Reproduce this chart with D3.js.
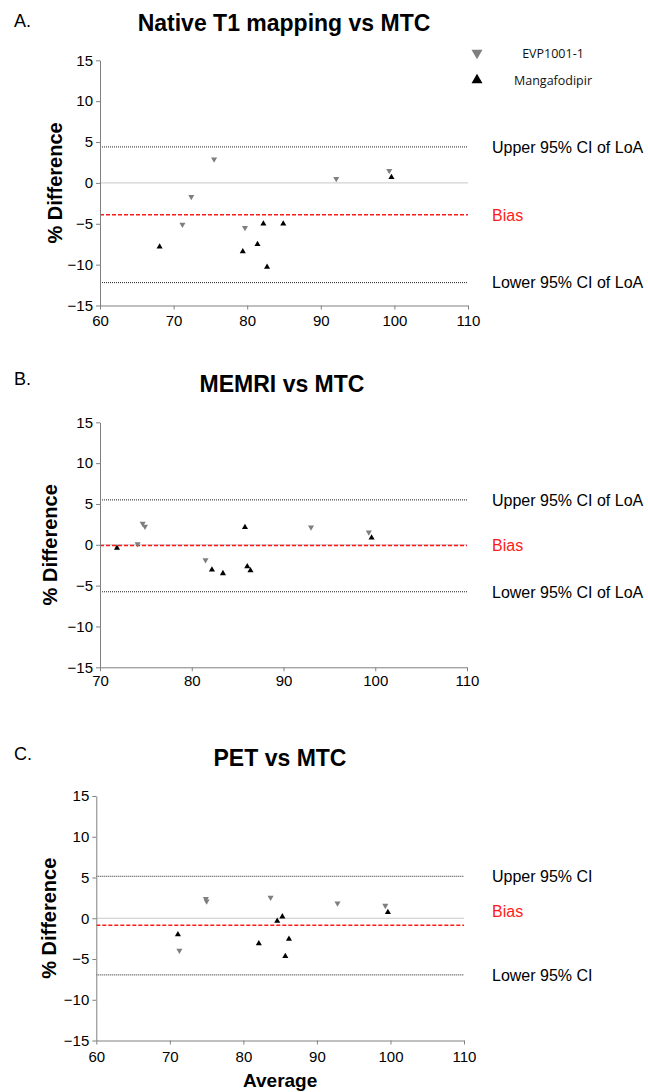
<!DOCTYPE html>
<html>
<head>
<meta charset="utf-8">
<script src="https://cdn.jsdelivr.net/npm/d3@7"></script>
<style>
  body { margin: 0; background: #fff; }
  svg { display: block; }
</style>
</head>
<body>
<script>
// Values (x = average, y = % difference)
var yTicks = [-15, -10, -5, 0, 5, 10, 15];
var xTicksA = [60, 70, 80, 90, 100, 110];
var xTicksB = [70, 80, 90, 100, 110];
var xTicksC = [60, 70, 80, 90, 100, 110];

var legendNames = ["EVP1001-1", "Mangafodipir"];

// A. Native T1 mapping vs MTC
var evpAx = [75.5, 72.4, 71.2, 79.7, 92.1, 99.3];
var evpAy = [2.9, -1.7, -5.1, -5.5, 0.5, 1.5];
var mangAx = [68.1, 79.4, 81.4, 82.2, 82.7, 84.9, 99.6];
var mangAy = [-7.8, -8.4, -7.5, -5.0, -10.3, -5.0, 0.7];
var limitsA = { upper: 4.4, bias: -3.9, lower: -12.2 };
var labelsA = ["Upper 95% CI of LoA", "Bias", "Lower 95% CI of LoA"];

// B. MEMRI vs MTC
var evpBx = [74.65, 74.9, 74.1, 81.5, 93.0, 99.3];
var evpBy = [2.6, 2.25, 0.1, -1.85, 2.15, 1.55];
var mangBx = [71.85, 82.2, 83.4, 85.8, 86.05, 86.4, 99.6];
var mangBy = [-0.4, -3.05, -3.5, 2.15, -2.65, -3.15, 0.85];
var limitsB = { upper: 5.5, bias: -0.1, lower: -5.75 };
var labelsB = ["Upper 95% CI of LoA", "Bias", "Lower 95% CI of LoA"];

// C. PET vs MTC
var evpCx = [74.9, 75.0, 71.3, 83.7, 92.8, 99.3];
var evpCy = [2.4, 2.1, -3.95, 2.55, 1.85, 1.55];
var mangCx = [71.1, 82.1, 84.6, 85.3, 86.2, 85.7, 99.65];
var mangCy = [-2.0, -3.1, -0.35, 0.2, -2.55, -4.65, 0.75];
var limitsC = { upper: 5.15, bias: -0.85, lower: -6.95 };
var labelsC = ["Upper 95% CI", "Bias", "Lower 95% CI"];

// layout of the three panels
var panels = [
  { letter: "A.", title: "Native T1 mapping vs MTC", xDomain: [60, 110], xTicks: xTicksA,
    left: 100, right: 468, top: 60.3, bottom: 305.5, titleY: 31, titleX: 284, letterY: 27,
    yLabelX: 62, xPad: 6, biasShift: 0,
    evpX: evpAx, evpY: evpAy, mangX: mangAx, mangY: mangAy, lim: limitsA, labels: labelsA },
  { letter: "B.", title: "MEMRI vs MTC", xDomain: [70, 110], xTicks: xTicksB,
    left: 100, right: 467, top: 422.3, bottom: 667.3, titleY: 392, titleX: 282, letterY: 385,
    yLabelX: 57, xPad: 4, biasShift: 0,
    evpX: evpBx, evpY: evpBy, mangX: mangBx, mangY: mangBy, lim: limitsB, labels: labelsB },
  { letter: "C.", title: "PET vs MTC", xDomain: [60, 110], xTicks: xTicksC,
    left: 96.3, right: 464, top: 796, bottom: 1040.5, titleY: 766, titleX: 280, letterY: 760,
    yLabelX: 56, xPad: 7, biasShift: -14,
    evpX: evpCx, evpY: evpCy, mangX: mangCx, mangY: mangCy, lim: limitsC, labels: labelsC }
];

var svg = d3.select("body").append("svg")
  .attr("width", 648)
  .attr("height", 1092);

var fontMain = "'Liberation Sans', Arial, sans-serif";
var greyMark = "#7f7f7f";
var smallTri = 16;

function drawPanel(p) {
  var x = d3.scaleLinear().domain(p.xDomain).range([p.left, p.right]);
  var y = d3.scaleLinear().domain([-15, 15]).range([p.bottom, p.top]);
  var g = svg.append("g");

  // zero line
  g.append("line")
    .attr("x1", x(p.xDomain[0])).attr("x2", x(p.xDomain[1]))
    .attr("y1", y(0)).attr("y2", y(0))
    .attr("stroke", "#c8c8c8").attr("stroke-width", 1);

  // limits of agreement (dotted) and bias (red dashed)
  [p.lim.upper, p.lim.lower].forEach(function(v) {
    g.append("line")
      .attr("x1", x(p.xDomain[0])).attr("x2", x(p.xDomain[1]))
      .attr("y1", y(v)).attr("y2", y(v))
      .attr("stroke", "#222").attr("stroke-width", 1)
      .attr("stroke-dasharray", "1,1");
  });
  g.append("line")
    .attr("x1", x(p.xDomain[0])).attr("x2", x(p.xDomain[1]))
    .attr("y1", y(p.lim.bias)).attr("y2", y(p.lim.bias))
    .attr("stroke", "#ff1a1a").attr("stroke-width", 1.5)
    .attr("stroke-dasharray", "4,2");

  // line labels
  var labY = [y(p.lim.upper), y(p.lim.bias) + p.biasShift, y(p.lim.lower)];
  p.labels.forEach(function(t, i) {
    g.append("text")
      .attr("x", 492)
      .attr("y", labY[i])
      .attr("dy", "0.36em")
      .attr("font-family", fontMain)
      .attr("font-size", 16)
      .attr("fill", i === 1 ? "#ff1a1a" : "#000")
      .text(t);
  });

  // axes
  var xAxis = g.append("g")
    .attr("transform", `translate(0, ${y(-15)})`)
    .call(d3.axisBottom(x).tickValues(p.xTicks).tickSize(4).tickSizeOuter(0).tickPadding(p.xPad));
  var yAxis = g.append("g")
    .attr("transform", `translate(${x(p.xDomain[0])}, 0)`)
    .call(d3.axisLeft(y).tickValues(yTicks).tickSize(4).tickSizeOuter(0).tickPadding(3));
  [xAxis, yAxis].forEach(function(a) {
    a.select(".domain").attr("stroke", "#808080");
    a.selectAll(".tick line").attr("stroke", "#808080");
    a.selectAll(".tick text")
      .attr("font-family", fontMain)
      .attr("font-size", 15)
      .attr("fill", "#000");
  });

  // points: EVP1001-1 down triangles (grey), Mangafodipir up triangles (black)
  var tri = d3.symbol().type(d3.symbolTriangle).size(smallTri);
  g.selectAll(".evp")
    .data(d3.zip(p.evpX, p.evpY))
    .enter().append("path")
    .attr("class", "evp")
    .attr("d", tri)
    .attr("transform", d => `translate(${x(d[0])}, ${y(d[1])}) rotate(180)`)
    .attr("fill", greyMark);
  g.selectAll(".mang")
    .data(d3.zip(p.mangX, p.mangY))
    .enter().append("path")
    .attr("class", "mang")
    .attr("d", tri)
    .attr("transform", d => `translate(${x(d[0])}, ${y(d[1])})`)
    .attr("fill", "#000");

  // titles
  g.append("text")
    .attr("x", 14).attr("y", p.letterY)
    .attr("font-family", fontMain).attr("font-size", 18)
    .text(p.letter);
  g.append("text")
    .attr("x", p.titleX).attr("y", p.titleY)
    .attr("text-anchor", "middle")
    .attr("font-family", fontMain).attr("font-size", 23).attr("font-weight", "bold")
    .text(p.title);
  g.append("text")
    .attr("transform", `translate(${p.yLabelX}, ${y(0)}) rotate(-90)`)
    .attr("text-anchor", "middle")
    .attr("font-family", fontMain).attr("font-size", 20).attr("font-weight", "bold")
    .text("% Difference");
}

panels.forEach(drawPanel);

// x-axis title only under the last panel
svg.append("text")
  .attr("x", (panels[2].left + panels[2].right) / 2)
  .attr("y", 1087)
  .attr("text-anchor", "middle")
  .attr("font-family", fontMain).attr("font-size", 19).attr("font-weight", "bold")
  .text("Average");

// legend
var legend = svg.append("g");
var legendTri = d3.symbol().type(d3.symbolTriangle).size(52);
legend.append("path")
  .attr("d", legendTri)
  .attr("transform", "translate(477, 53) rotate(180)")
  .attr("fill", greyMark);
legend.append("path")
  .attr("d", legendTri)
  .attr("transform", "translate(477, 80)")
  .attr("fill", "#000");
legend.selectAll(".legtext")
  .data(legendNames)
  .enter().append("text")
  .attr("class", "legtext")
  .attr("x", 553)
  .attr("y", (d, i) => 53 + i * 27)
  .attr("dy", "0.36em")
  .attr("text-anchor", "middle")
  .attr("font-family", "'Open Sans', sans-serif")
  .attr("font-size", 12.5)
  .attr("fill", "#111")
  .text(d => d);
</script>
</body>
</html>
